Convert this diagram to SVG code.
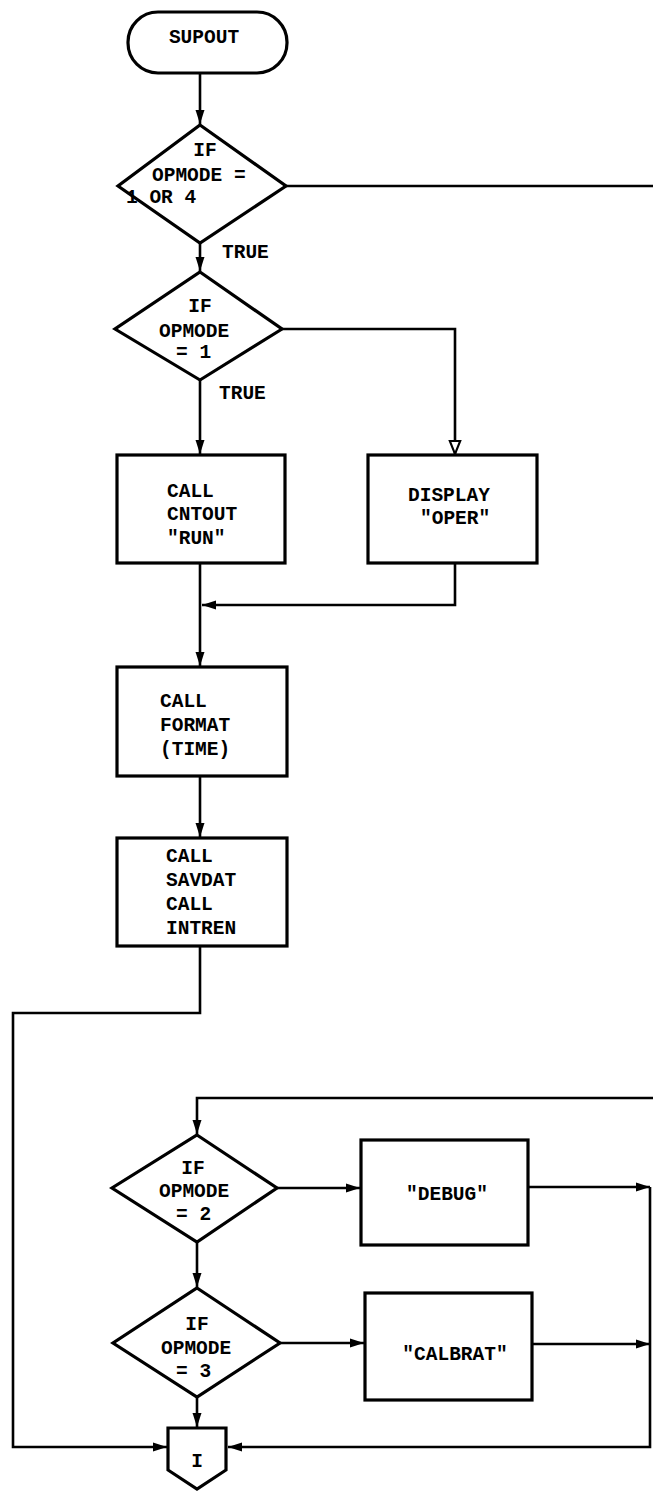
<svg xmlns="http://www.w3.org/2000/svg" width="653" height="1491" viewBox="0 0 653 1491">
<style>
.shape{fill:#fff;stroke:#000;stroke-width:3.2;stroke-linejoin:miter}
.ln{fill:none;stroke:#000;stroke-width:2.6}
.t{font-family:"Liberation Mono","DejaVu Sans Mono",monospace;font-weight:bold;font-size:19.5px;fill:#000}
.c{text-anchor:middle}
</style>
<defs>
<marker id="ar" viewBox="0 0 10 10" refX="10" refY="5" markerWidth="5.5" markerHeight="5.5" orient="auto" markerUnits="strokeWidth">
<path d="M0,1.8 L10,5 L0,8.2 Z" fill="#000"/>
</marker>
<marker id="ao" viewBox="0 0 12 12" refX="11" refY="6" markerWidth="6" markerHeight="6" orient="auto" markerUnits="strokeWidth">
<path d="M1,2 L11,6 L1,10 Z" fill="#fff" stroke="#000" stroke-width="1.6"/>
</marker>
</defs>
<rect width="653" height="1491" fill="#fff"/>

<g id="connectors">
<line class="ln" x1="200" y1="73" x2="200" y2="124" marker-end="url(#ar)"/>
<line class="ln" x1="286" y1="186" x2="653" y2="186"/>
<line class="ln" x1="200" y1="243" x2="200" y2="271" marker-end="url(#ar)"/>
<line class="ln" x1="200" y1="380" x2="200" y2="454" marker-end="url(#ar)"/>
<polyline class="ln" points="282,329 455,329 455,454" marker-end="url(#ao)"/>
<polyline class="ln" points="455,563 455,605 202,605" marker-end="url(#ar)"/>
<line class="ln" x1="200" y1="563" x2="200" y2="666" marker-end="url(#ar)"/>
<line class="ln" x1="200" y1="776" x2="200" y2="837" marker-end="url(#ar)"/>
<polyline class="ln" points="200,946 200,1013 13,1013 13,1447 167,1447" marker-end="url(#ar)"/>
<polyline class="ln" points="653,1098 197,1098 197,1134" marker-end="url(#ar)"/>
<line class="ln" x1="277" y1="1188" x2="360" y2="1188" marker-end="url(#ar)"/>
<line class="ln" x1="528" y1="1187" x2="650" y2="1187" marker-end="url(#ar)"/>
<line class="ln" x1="197" y1="1242" x2="197" y2="1287" marker-end="url(#ar)"/>
<line class="ln" x1="280" y1="1343" x2="364" y2="1343" marker-end="url(#ar)"/>
<line class="ln" x1="532" y1="1344" x2="650" y2="1344" marker-end="url(#ar)"/>
<polyline class="ln" points="650,1187 650,1447 228,1447" marker-end="url(#ar)"/>
<line class="ln" x1="197" y1="1397" x2="197" y2="1427" marker-end="url(#ar)"/>
<text class="t" x="222" y="258">TRUE</text>
<text class="t" x="219" y="399">TRUE</text>
</g>

<g id="supout">
<rect class="shape" x="128" y="12" width="159" height="61" rx="30" ry="30"/>
<text class="t c" x="204" y="43">SUPOUT</text>
</g>

<g id="if-opmode-1-or-4">
<polygon class="shape" points="200,125 286,186 200,243 118,186"/>
<text class="t c" x="205" y="156">IF</text>
<text class="t" x="152" y="181">OPMODE =</text>
<text class="t" x="126" y="203">1 OR 4</text>
</g>

<g id="if-opmode-1">
<polygon class="shape" points="200,272 282,329 200,380 115,329"/>
<text class="t c" x="200" y="312">IF</text>
<text class="t" x="159" y="337">OPMODE</text>
<text class="t" x="176" y="358">= 1</text>
</g>

<g id="call-cntout">
<rect class="shape" x="117" y="455" width="168" height="108"/>
<text class="t" x="167" y="497">CALL</text>
<text class="t" x="167" y="520">CNTOUT</text>
<text class="t" x="167" y="544">"RUN"</text>
</g>

<g id="display-oper">
<rect class="shape" x="368" y="455" width="169" height="108"/>
<text class="t" x="408" y="501">DISPLAY</text>
<text class="t" x="420" y="524">"OPER"</text>
</g>

<g id="call-format">
<rect class="shape" x="117" y="667" width="170" height="109"/>
<text class="t" x="160" y="707">CALL</text>
<text class="t" x="160" y="731">FORMAT</text>
<text class="t" x="160" y="755">(TIME)</text>
</g>

<g id="call-savdat">
<rect class="shape" x="117" y="838" width="170" height="108"/>
<text class="t" x="166" y="862">CALL</text>
<text class="t" x="166" y="886">SAVDAT</text>
<text class="t" x="166" y="910">CALL</text>
<text class="t" x="166" y="934">INTREN</text>
</g>

<g id="if-opmode-2">
<polygon class="shape" points="197,1135 277,1188 197,1242 112,1188"/>
<text class="t c" x="193" y="1174">IF</text>
<text class="t" x="159" y="1197">OPMODE</text>
<text class="t" x="176" y="1220">= 2</text>
</g>

<g id="debug">
<rect class="shape" x="361" y="1140" width="167" height="105"/>
<text class="t c" x="447" y="1200">"DEBUG"</text>
</g>

<g id="if-opmode-3">
<polygon class="shape" points="197,1288 280,1343 197,1397 113,1343"/>
<text class="t c" x="197" y="1330">IF</text>
<text class="t" x="161" y="1354">OPMODE</text>
<text class="t" x="176" y="1377">= 3</text>
</g>

<g id="calbrat">
<rect class="shape" x="365" y="1293" width="167" height="107"/>
<text class="t c" x="455" y="1360">"CALBRAT"</text>
</g>

<g id="offpage-i">
<path class="shape" d="M168,1428 H226 V1470 L197,1489 L168,1470 Z"/>
<text class="t c" x="197" y="1467">I</text>
</g>
</svg>
